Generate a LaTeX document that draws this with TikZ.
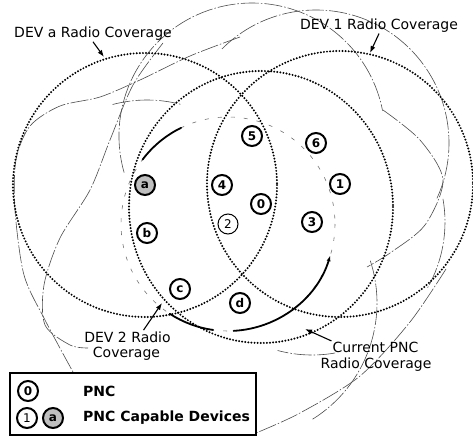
\documentclass[tikz,border=0pt]{standalone}
\usepackage{fontspec}
\setmainfont{DejaVu Sans}
\usetikzlibrary{arrows.meta}
\begin{document}
\begin{tikzpicture}[x=1pt,y=-1pt,
  dotc/.style={line width=2.2pt, dash pattern=on 0pt off 3.1pt, line cap=round, black},
  thinc/.style={line width=0.6pt, black!70, dash pattern=on 18pt off 2pt on 1.5pt off 2pt},
  sparse/.style={line width=0.6pt, black!55, dash pattern=on 4pt off 9pt},
  swoosh/.style={line width=1.8pt, black, line cap=round},
  dev/.style={circle, draw, line width=2pt, minimum size=20pt, inner sep=0pt, fill=white,
    font=\fontsize{12}{12}\selectfont\bfseries},
  lab/.style={font=\fontsize{14}{15}\selectfont, anchor=base, inner sep=1pt},
  arr/.style={line width=1.1pt, -{Latex[length=7pt,width=5pt]}}
]
\useasboundingbox (0,0) rectangle (473,436);
% device positions
\coordinate (p5) at (252,136);
\coordinate (p6) at (316,143);
\coordinate (pa) at (145,185);
\coordinate (p4) at (222,185);
\coordinate (p1) at (340,184);
\coordinate (p0) at (261,204);
\coordinate (p2) at (228,224);
\coordinate (p3) at (312,222);
\coordinate (pb) at (147,233);
\coordinate (pc) at (180,289);
\coordinate (pd) at (240,303);

% thin (faint) coverage outlines
\draw[thinc] plot[smooth] coordinates {(240,37) (190,56) (140,80) (100,97) (60,106) (30,126) (16,160) (15,210) (24,275) (45,320) (73,372)};
\draw[thinc] plot[smooth] coordinates {(163,43) (133,85) (110,140) (90,190) (60,238) (44,285) (45,325) (70,345) (88,348)};
\draw[thinc] (p5) ++(164:133) arc[start angle=164, end angle=349, radius=133];
\draw[thinc] (p6) ++(225:133) arc[start angle=225, end angle=385, radius=133];
\draw[thinc] (p3) ++(-10:133) arc[start angle=-10, end angle=30, radius=133];
\draw[thinc] (p3) ++(80:133) arc[start angle=80, end angle=105, radius=133];
\draw[thinc] (pd) ++(-18:137) arc[start angle=-18, end angle=58, radius=137];
\draw[thinc] (pb) ++(255:133) arc[start angle=255, end angle=285, radius=133];
\draw[thinc] plot[smooth] coordinates {(383,110) (420,140) (443,180) (425,225) (390,253) (367,267)};
\draw[thinc] plot[smooth] coordinates {(446,269) (410,322) (360,376) (300,413) (256,433)};

% DEV 2 coverage (thin, sparse) with thick strokes
\draw[sparse] (p2) circle[radius=107];
\draw[swoosh] (p2) ++(217:107) arc[start angle=217, end angle=244, radius=107];
\draw[swoosh] (p2) ++(98:107) arc[start angle=98, end angle=123, radius=107];
\draw[swoosh, -{Latex[length=6pt,width=4pt]}] (p2) ++(87:107) arc[start angle=87, end angle=17, radius=107];

% dotted coverage circles
\draw[dotc] (pa) circle[radius=132];
\draw[dotc] (p1) circle[radius=133];
\draw[dotc] (p0) ++(0,3) ellipse[x radius=132, y radius=136];

% devices
\node[dev] (n5) at (p5) {5};
\node[dev] (n6) at (p6) {6};
\node[dev, fill=black!25] (na) at (pa) {a};
\node[dev] (n4) at (p4) {4};
\node[dev] (n1) at (p1) {1};
\node[dev] (n0) at (p0) {0};
\node[dev, line width=1pt, font=\fontsize{12}{12}\selectfont] (n2) at (p2) {2};
\node[dev] (n3) at (p3) {3};
\node[dev] (nb) at (pb) {b};
\node[dev] (nc) at (pc) {c};
\node[dev] (nd) at (pd) {d};

% labels
\node[lab] (labA) at (93,37.7) {DEV a Radio Coverage};
\coordinate (tipA) at (104,57);
\draw[arr] (labA.south) -- (tipA);

\node[lab] (labB) at (379,29.5) {DEV 1 Radio Coverage};
\coordinate (tipB) at (370,53);
\draw[arr] (labB.south) -- (tipB);

\node[lab] (lab2a) at (127.5,342) {DEV 2 Radio};
\node[lab] (lab2b) at (126.5,357) {Coverage};
\coordinate (tip2) at (162,303);
\draw[arr] ([xshift=16pt]lab2a.north) -- (tip2);

\node[lab] (labPa) at (375.5,352.5) {Current PNC};
\node[lab] (labPb) at (376,368) {Radio Coverage};
\coordinate (tipP) at (305,329);
\draw[arr] (labPa.north west) -- (tipP);

% legend
\node[draw, line width=1.3pt, fill=white, minimum width=246pt, minimum height=62pt, inner sep=0pt] (legend) at (133,404) {};
\node[dev] (l0) at (28,391) {0};
\node[dev, font=\fontsize{12}{12}\selectfont] (l1) at (27,418) {1};
\node[dev, fill=black!25] (la) at (53,418) {a};
\node[anchor=west, inner sep=0pt, font=\fontsize{14}{14}\selectfont\bfseries] (t0) at (83,391) {PNC};
\node[anchor=west, inner sep=0pt, font=\fontsize{14}{14}\selectfont\bfseries] (t1) at (83,418) {PNC Capable Devices};
\end{tikzpicture}
\end{document}
